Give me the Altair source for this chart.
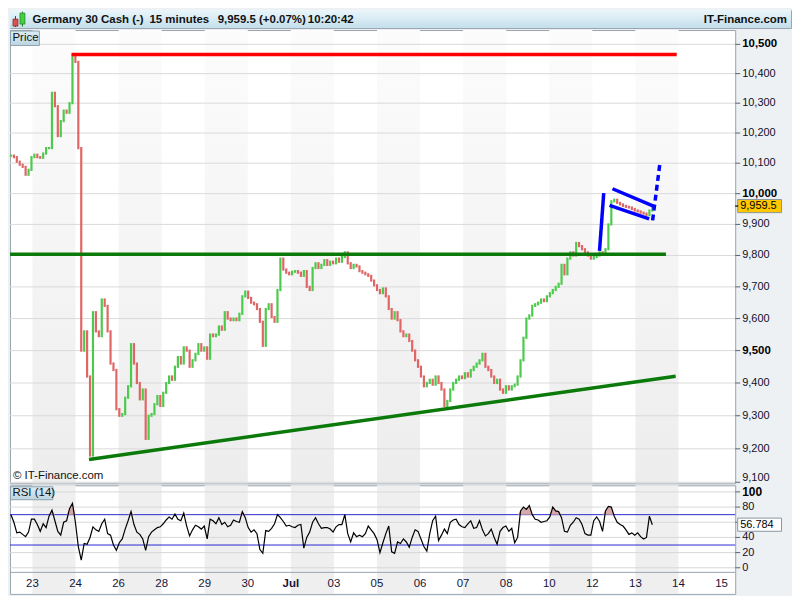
import altair as alt
import pandas as pd

FONT = "Liberation Sans"

# ---------------- data ----------------
day_labels = ["23", "24", "26", "28", "29", "30", "Jul", "03", "05", "06",
              "07", "08", "10", "12", "13", "14", "15"]
bar_start_day = -0.4986
bar_step_days = 0.068

closes = [
    10125, 10120, 10105, 10095, 10088, 10062, 10078, 10120, 10128, 10120,
    10118, 10132, 10150, 10150, 10335, 10290, 10190, 10240, 10275, 10268,
    10300, 10465, 10440, 10150, 9500, 9560, 9420, 9180, 9620, 9560,
    9545, 9660, 9640, 9560, 9460, 9440, 9320, 9300, 9305, 9355,
    9390, 9520, 9460, 9400, 9350, 9380, 9230, 9300, 9305, 9335,
    9360, 9330, 9370, 9400, 9420, 9410, 9450, 9480, 9460, 9510,
    9500, 9450, 9470, 9490, 9520, 9500, 9510, 9475, 9550, 9545,
    9550, 9575, 9565, 9620, 9600, 9595, 9600, 9595, 9615, 9670,
    9685, 9665, 9650, 9645, 9630, 9590, 9515, 9630, 9645, 9605,
    9590, 9690, 9790, 9755, 9745, 9740, 9748, 9750, 9745, 9735,
    9750, 9700, 9690, 9760, 9775, 9760, 9770, 9785, 9770, 9780,
    9775, 9790, 9780, 9795, 9810, 9775, 9760, 9770, 9765, 9750,
    9745, 9740, 9735, 9720, 9705, 9690, 9680, 9695, 9670, 9630,
    9600, 9620, 9595, 9560, 9545, 9550, 9530, 9500, 9470, 9450,
    9420, 9390, 9400, 9410, 9395, 9420, 9400, 9380, 9330, 9345,
    9380, 9400, 9410, 9420, 9415, 9430, 9420, 9440, 9450, 9460,
    9470, 9490, 9450, 9440, 9420, 9400, 9410, 9380, 9370, 9390,
    9380, 9390, 9395, 9420, 9470, 9540, 9600, 9610, 9640, 9645,
    9650, 9660, 9655, 9670, 9680, 9690, 9700, 9710, 9770, 9740,
    9790, 9810, 9800, 9840, 9830, 9820, 9810, 9800, 9790, 9795,
    9800, 9810, 9805, 9820, 9900, 9975, 9980, 9970, 9965, 9960,
    9957, 9955, 9950, 9945, 9942, 9938, 9935, 9930, 9945, 9959.5,
]

rsi_values = [
    70, 60, 46, 47, 44, 41, 47, 64, 64, 57,
    48, 58, 53, 68, 76, 62, 48, 43, 60, 62,
    78, 85, 60, 28, 10, 32, 31, 40, 54, 50,
    48, 58, 64, 45, 43, 30, 23, 33, 38, 51,
    62, 74, 57, 47, 44, 38, 23, 41, 47, 50,
    53, 54, 58, 63, 67, 64, 71, 64, 62, 72,
    55, 42, 50, 56, 54, 51, 55, 38, 64, 62,
    58, 66, 57, 60, 54, 56, 63, 61, 60, 74,
    66, 53, 47, 50, 45, 24, 19, 49, 48, 52,
    58, 70, 66, 61, 55, 56, 54, 53, 56, 57,
    26, 40, 47, 60, 66, 58, 52, 53, 53, 51,
    47, 54, 57, 57, 70, 45, 34, 46, 41, 43,
    41, 45, 55, 50, 45, 37, 20, 33, 45, 55,
    21, 19, 34, 32, 38, 34, 27, 40, 50, 48,
    38, 28, 22, 45, 62, 68, 36, 43, 51, 45,
    60, 63, 64, 57, 54, 53, 58, 62, 52, 53,
    62, 50, 42, 45, 51, 40, 31, 48, 53, 55,
    48, 52, 33, 40, 75, 80, 77, 82, 70, 64,
    63, 60, 61, 62, 67, 80, 75, 74, 66, 48,
    47, 56, 60, 66, 64, 57, 45, 43, 43, 62,
    67, 61, 48, 75, 81, 80, 68, 60, 57, 55,
    50, 44, 46, 43, 46, 41, 38, 40, 68, 56.784,
]

price_ticks = list(range(9100, 10501, 100))
rsi_ticks = [0, 20, 40, 60, 80, 100]
rsi_label_ticks = [0, 20, 40, 80, 100]
rsi_levels = [30, 70]
last_price = 9959.5
last_rsi = 56.784

header_title = "Germany 30 Cash (-)"
header_interval = "15 minutes"
header_quote = "9,959.5 (+0.07%)"
header_time = "10:20:42"
header_brand = "IT-Finance.com"

# drawn trend lines (day position, price)
red_t, red_p = [0.91, 14.96], [10465, 10465]
green_flat_t, green_flat_p = [-0.52, 14.71], [9804, 9804]
green_trend_t, green_trend_p = [1.314, 14.935], [9168, 9421]
pole_t, pole_p = [13.167, 13.265], [9815, 10002]
flag_top_t, flag_top_p = [13.468, 14.42], [10016, 9959]
flag_bot_t, flag_bot_p = [13.40, 14.32], [9962, 9918]
target_t, target_p = [14.40, 14.57], [9913, 10100]

# ---------------- layout ----------------
W = 728
W_HEAD = 784
H_HEAD = 18
H_PRICE = 455
H_RSI = 109
x_dom = [-0.521, 16.318]
price_dom = [9096.9, 10549.2]
rsi_dom = [-34.4, 108.7]

GREEN = "#4cca4c"
RED = "#e06666"
LABEL = "#10102a"
TICK = "#5a6470"

n = len(closes)
opens = [closes[0]] + closes[:-1]
bars = pd.DataFrame({
    "t": [bar_start_day + i * bar_step_days for i in range(n)],
    "open": opens,
    "close": closes,
    "rsi": rsi_values,
    "dir": ["up" if c >= o else "down" for o, c in zip(opens, closes)],
})
band_starts = list(range(0, len(day_labels) - 1, 2))
bands_df = pd.DataFrame({"start": band_starts, "end": [s + 1 for s in band_starts]})
labels_df = pd.DataFrame({"t": list(range(len(day_labels))), "label": day_labels})
ptick_df = pd.DataFrame({"p": price_ticks})
rtick_df = pd.DataFrame({"v": rsi_label_ticks})
one = pd.DataFrame({"a": [0]})

xs = alt.Scale(domain=x_dom, nice=False, zero=False)
ys = alt.Scale(type="log", domain=price_dom, nice=False, zero=False)
rs = alt.Scale(domain=rsi_dom, nice=False, zero=False)


def grad(c0, c1):
    return alt.Gradient(gradient="linear",
                        stops=[alt.GradientStop(color=c0, offset=0),
                               alt.GradientStop(color=c1, offset=1)],
                        x1=0, x2=0, y1=0, y2=1)


X = alt.X("t:Q", scale=xs, axis=None)
PY = alt.Y("p:Q", scale=ys, axis=None)
RY = alt.Y("v:Q", scale=rs, axis=None)

# ---------------- header ----------------
def htext(txt, x, align="left", weight="bold"):
    return alt.Chart(one).mark_text(text=txt, align=align, baseline="middle", font=FONT,
                                    fontSize=11.5, fontWeight=weight, color="#111").encode(
        x=alt.value(x), y=alt.value(9.5))


header = alt.layer(
    alt.Chart(one).mark_rect(fill=grad("#eaf6fb", "#c4dfeb")).encode(
        x=alt.value(0), x2=alt.value(W_HEAD), y=alt.value(0), y2=alt.value(H_HEAD)),
    alt.Chart(one).mark_rule(color="#7a2020", strokeWidth=1).encode(
        x=alt.value(5.5), y=alt.value(6), y2=alt.value(17)),
    alt.Chart(one).mark_rect(fill="#e05050", stroke="#7a2020", strokeWidth=0.7).encode(
        x=alt.value(3), x2=alt.value(8), y=alt.value(9), y2=alt.value(16)),
    alt.Chart(one).mark_rule(color="#207a20", strokeWidth=1).encode(
        x=alt.value(12.5), y=alt.value(1.5), y2=alt.value(16.5)),
    alt.Chart(one).mark_rect(fill="#44d044", stroke="#207a20", strokeWidth=0.7).encode(
        x=alt.value(10), x2=alt.value(15), y=alt.value(3), y2=alt.value(14)),
    htext(header_title, 22.5),
    htext(header_interval, 140),
    htext(header_quote, 208.5),
    htext(header_time, 299),
    htext(header_brand, 780, align="right"),
).properties(width=W_HEAD, height=H_HEAD)

# ---------------- price panel ----------------
p_bands = alt.Chart(bands_df).mark_rect(fill=grad("#fcfcfc", "#ededed")).encode(
    x=alt.X("start:Q", scale=xs, axis=None), x2="end:Q")
p_grid = alt.Chart(ptick_df).mark_rule(color="#dadada", strokeWidth=1).encode(y=PY)
p_bars = alt.Chart(bars).mark_rule(strokeWidth=2.2, strokeCap="square").encode(
    x=X,
    y=alt.Y("open:Q", scale=ys, axis=None),
    y2="close:Q",
    color=alt.Color("dir:N", scale=alt.Scale(domain=["up", "down"], range=[GREEN, RED]),
                    legend=None),
)


def seg(ts, ps, color, width=3.5, dash=None):
    kw = dict(color=color, strokeWidth=width, clip=True)
    if dash:
        kw["strokeDash"] = dash
    return alt.Chart(pd.DataFrame({"t": ts, "p": ps})).mark_line(**kw).encode(x=X, y=PY)


# right-hand price scale drawn with the price scale itself
p_ticks = alt.Chart(ptick_df).mark_rule(color=TICK, strokeWidth=1).encode(
    x=alt.value(W), x2=alt.value(W + 5), y=PY)
p_lab_norm = alt.Chart(ptick_df).transform_filter(
    "datum.p % 500 != 0 && datum.p != 9100").mark_text(
    align="left", baseline="middle", font=FONT, fontSize=11, color=LABEL).encode(
    x=alt.value(W + 7), y=PY, text=alt.Text("p:Q", format=","))
p_lab_bold = alt.Chart(ptick_df).transform_filter("datum.p % 500 == 0").mark_text(
    align="left", baseline="middle", font=FONT, fontSize=11.5, fontWeight="bold",
    color="#000").encode(x=alt.value(W + 7), y=PY, text=alt.Text("p:Q", format=","))
p_lab_last = alt.Chart(ptick_df).transform_filter("datum.p == 9100").mark_text(
    align="left", baseline="bottom", dy=1, font=FONT, fontSize=11, color=LABEL).encode(
    x=alt.value(W + 7), y=PY, text=alt.Text("p:Q", format=","))

tag_df = pd.DataFrame({"p": [last_price], "label": [f"{last_price:,.1f}"]})
p_tag_box = alt.Chart(tag_df).mark_point(
    shape="M-1,-0.3H1V0.3H-1Z", size=44 * 44, filled=True, fill="#ffc800",
    stroke="#8a96a0", strokeWidth=1, opacity=1).encode(x=alt.value(752.5), y=PY)
p_tag_tick = alt.Chart(tag_df).mark_rule(color="#000", strokeWidth=1.2).encode(
    x=alt.value(W), x2=alt.value(W + 3), y=PY)
p_tag_txt = alt.Chart(tag_df).mark_text(
    align="left", baseline="middle", font=FONT, fontSize=11, color="#000").encode(
    x=alt.value(733), y=PY, text="label:N")

p_box = alt.Chart(one).mark_rect(fill=grad("#dcedf5", "#bcd5e2"), stroke="#8da2ae",
                                 strokeWidth=1).encode(
    x=alt.value(0.5), x2=alt.value(29.5), y=alt.value(1), y2=alt.value(15.5))
p_lbl = alt.Chart(one).mark_text(text="Price", align="left", baseline="middle", font=FONT,
                                 fontSize=11.5, color="#111").encode(
    x=alt.value(2.5), y=alt.value(8.5))
p_copy = alt.Chart(one).mark_text(text="© IT-Finance.com", align="left", baseline="middle",
                                  font=FONT, fontSize=11.5, color="#111").encode(
    x=alt.value(3), y=alt.value(448))

price = alt.layer(
    p_bands, p_grid, p_bars,
    seg(red_t, red_p, "#ff0000"),
    seg(green_flat_t, green_flat_p, "#0b7a0b"),
    seg(green_trend_t, green_trend_p, "#0b7a0b"),
    seg(pole_t, pole_p, "#0000ff"),
    seg(flag_top_t, flag_top_p, "#0000ff"),
    seg(flag_bot_t, flag_bot_p, "#0000ff"),
    seg(target_t, target_p, "#0000ff", dash=[6, 4]),
    p_ticks, p_lab_norm, p_lab_bold, p_lab_last,
    p_tag_box, p_tag_tick, p_tag_txt, p_box, p_lbl, p_copy,
).properties(width=W, height=H_PRICE)

# ---------------- RSI panel ----------------
r_bands = alt.Chart(bands_df).mark_rect(fill="#efefef").encode(
    x=alt.X("start:Q", scale=xs, axis=None), x2="end:Q")
r_grid = alt.Chart(pd.DataFrame({"v": rsi_ticks})).mark_rule(
    color="#d8d8d8", strokeWidth=1).encode(y=RY)
r_levels = alt.Chart(pd.DataFrame({"v": rsi_levels})).mark_rule(
    color="#2a2ad0", strokeWidth=1).encode(y=RY)
r_sep = alt.Chart(one).mark_rule(color="#9aa5ad", strokeWidth=1).encode(
    x=alt.value(0), x2=alt.value(W), y=alt.value(87.4))
r_fill = alt.Chart(bars).transform_calculate(
    hi="max(datum.rsi, 70)", lo="70").mark_area(color="#d4a0a0", opacity=0.9).encode(
    x=X, y=alt.Y("hi:Q", scale=rs, axis=None), y2="lo:Q")
r_line = alt.Chart(bars).mark_line(color="#000", strokeWidth=1.2).encode(
    x=X, y=alt.Y("rsi:Q", scale=rs, axis=None))

r_ticks = alt.Chart(pd.DataFrame({"v": rsi_ticks})).mark_rule(
    color=TICK, strokeWidth=1).encode(x=alt.value(W), x2=alt.value(W + 5), y=RY)
r_lab_norm = alt.Chart(rtick_df).transform_filter("datum.v != 100").mark_text(
    align="left", baseline="middle", font=FONT, fontSize=11, color=LABEL).encode(
    x=alt.value(W + 7), y=RY, text=alt.Text("v:Q"))
r_lab_bold = alt.Chart(rtick_df).transform_filter("datum.v == 100").mark_text(
    align="left", baseline="middle", font=FONT, fontSize=12, fontWeight="bold",
    color="#000").encode(x=alt.value(W + 7), y=RY, text=alt.Text("v:Q"))

rtag_df = pd.DataFrame({"v": [last_rsi], "label": [f"{last_rsi:.3f}"]})
r_tag_box = alt.Chart(rtag_df).mark_point(
    shape="M-1,-0.3H1V0.3H-1Z", size=44 * 44, filled=True, fill="#ffffff",
    stroke="#8a96a0", strokeWidth=1, opacity=1).encode(x=alt.value(752.5), y=RY)
r_tag_txt = alt.Chart(rtag_df).mark_text(
    align="left", baseline="middle", font=FONT, fontSize=11, color="#000").encode(
    x=alt.value(733), y=RY, text="label:N")

r_box = alt.Chart(one).mark_rect(fill=grad("#dcedf5", "#bcd5e2"), stroke="#8da2ae",
                                 strokeWidth=1).encode(
    x=alt.value(0.5), x2=alt.value(43), y=alt.value(1.5), y2=alt.value(14.5))
r_lbl = alt.Chart(one).mark_text(text="RSI (14)", align="left", baseline="middle",
                                 font=FONT, fontSize=11.5, color="#111").encode(
    x=alt.value(2.5), y=alt.value(8))

r_days = alt.Chart(labels_df).transform_filter("datum.label != 'Jul'").mark_text(
    align="center", baseline="middle", font=FONT, fontSize=11.5, color="#15153a").encode(
    x=X, y=alt.value(99), text="label:N")
r_days_b = alt.Chart(labels_df).transform_filter("datum.label == 'Jul'").mark_text(
    align="center", baseline="middle", font=FONT, fontSize=11.5, fontWeight="bold",
    color="#15153a").encode(x=X, y=alt.value(99), text="label:N")

rsi = alt.layer(
    r_bands, r_grid, r_levels, r_sep, r_fill, r_line,
    r_ticks, r_lab_norm, r_lab_bold,
    r_tag_box, r_tag_txt, r_box, r_lbl, r_days, r_days_b,
).properties(width=W, height=H_RSI)

chart = alt.vconcat(header, price, rsi, spacing=0).properties(
    padding=0, background="#eef1f4"
).configure_view(stroke="#9aa5ad", fill="white")

chart.save("out.html", embed_options={"renderer": "svg", "actions": False})
